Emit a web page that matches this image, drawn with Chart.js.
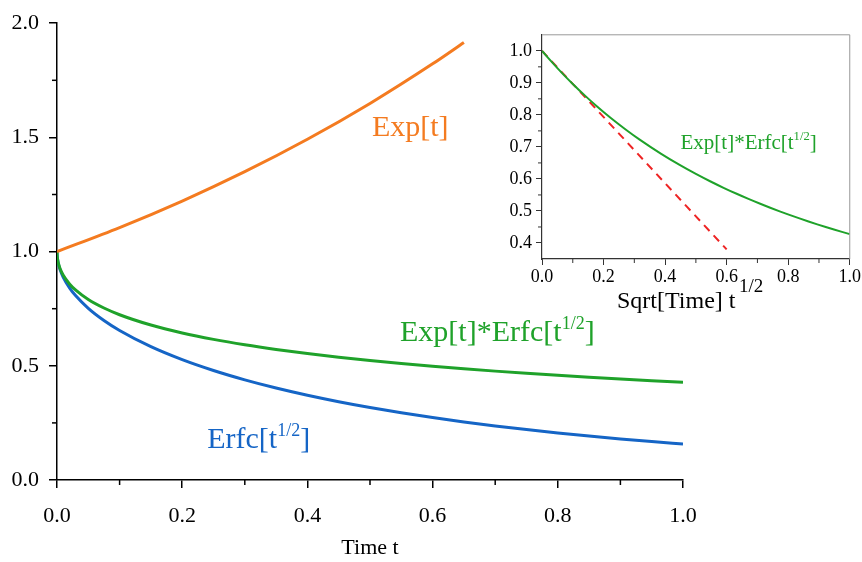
<!DOCTYPE html>
<html>
<head>
<meta charset="utf-8">
<script src="https://cdn.jsdelivr.net/npm/chart.js@4.4.1/dist/chart.umd.min.js"></script>
<style>
html, body { margin: 0; padding: 0; background: #fff; }
#wrap { position: relative; width: 862px; height: 562px; }
#main { position: absolute; left: 0; top: 0; }
#inset { position: absolute; left: 490px; top: 20px; }
</style>
</head>
<body>
<div id="wrap">
  <canvas id="main" width="862" height="562"></canvas>
  <canvas id="inset" width="372" height="300"></canvas>
</div>
<script>
// data
const timeT = [0, 0.0002, 0.001, 0.0025, 0.005, 0.01, 0.02, 0.03, 0.05, 0.075, 0.1, 0.15, 0.2,
  0.25, 0.3, 0.35, 0.4, 0.45, 0.5, 0.55, 0.6, 0.65, 0.7, 0.75, 0.8, 0.85, 0.9, 0.95, 1.0];
const sqrtTime = [0, 0.01414, 0.03162, 0.05, 0.07071, 0.1, 0.14142, 0.17321, 0.22361, 0.27386, 0.31623, 0.3873, 0.44721,
  0.5, 0.54772, 0.59161, 0.63246, 0.67082, 0.70711, 0.74162, 0.7746, 0.80623, 0.83666, 0.86603, 0.89443, 0.92195, 0.94868, 0.97468, 1.0];
const erfcValues = [1, 0.98404, 0.96433, 0.94363, 0.92034, 0.88754, 0.84148, 0.8065, 0.75183, 0.69858, 0.65472, 0.58388, 0.52709,
  0.4795, 0.43858, 0.40278, 0.37109, 0.34278, 0.31731, 0.29427, 0.27332, 0.25421, 0.23672, 0.22067, 0.2059, 0.19229, 0.17971, 0.16808, 0.1573];
const expErfcValues = [1, 0.98424, 0.9653, 0.94599, 0.92495, 0.89646, 0.85848, 0.83106, 0.79038, 0.75299, 0.72358, 0.67838, 0.64379,
  0.61569, 0.59202, 0.57158, 0.55361, 0.53759, 0.52316, 0.51004, 0.49802, 0.48695, 0.4767, 0.46716, 0.45824, 0.44988, 0.44202, 0.4346, 0.42758];
const expTime = [0, 0.1, 0.2, 0.3, 0.4, 0.5, 0.6, 0.65];
const expValues = [1, 1.10517, 1.2214, 1.34986, 1.49182, 1.64872, 1.82212, 1.91554];
const tangentX = [0, 0.6];
const tangentY = [1, 0.38];

// tick values
const mainXTicks = [0, 0.2, 0.4, 0.6, 0.8, 1.0];
const mainYTicks = [0, 0.5, 1.0, 1.5, 2.0];
const insetXTicks = [0, 0.2, 0.4, 0.6, 0.8, 1.0];
const insetYTicks = [0.4, 0.5, 0.6, 0.7, 0.8, 0.9, 1.0];

const orange = '#f47b20';
const green = '#1fa22a';
const blue = '#1565c6';
const red = '#ee2424';
const serif = '"Liberation Serif", "Times New Roman", serif';

function pts(xs, ys) {
  return xs.map((x, i) => ({ x: x, y: ys[i] }));
}
function fixedTicks(list) {
  return function (scale) {
    scale.ticks = list.map(v => ({ value: v }));
  };
}

// short ticks between the major ones
const minorTicks = {
  id: 'minorTicks',
  afterDraw(chart, args, opts) {
    const ctx = chart.ctx;
    const area = chart.chartArea;
    ctx.save();
    ctx.strokeStyle = opts.color;
    ctx.lineWidth = opts.width;
    opts.x.forEach(v => {
      const px = chart.scales.x.getPixelForValue(v);
      ctx.beginPath();
      ctx.moveTo(px, area.bottom);
      ctx.lineTo(px, area.bottom + opts.len);
      ctx.stroke();
    });
    opts.y.forEach(v => {
      const py = chart.scales.y.getPixelForValue(v);
      ctx.beginPath();
      ctx.moveTo(area.left, py);
      ctx.lineTo(area.left - opts.len, py);
      ctx.stroke();
    });
    if (opts.frame) {
      ctx.strokeStyle = opts.frame;
      ctx.beginPath();
      ctx.moveTo(area.left, area.top);
      ctx.lineTo(area.right, area.top);
      ctx.lineTo(area.right, area.bottom);
      ctx.stroke();
    }
    ctx.restore();
  }
};

// text with a superscript part
function drawRich(ctx, parts, x, y, size, color) {
  ctx.fillStyle = color;
  ctx.textAlign = 'left';
  ctx.textBaseline = 'alphabetic';
  let cx = x;
  parts.forEach(p => {
    const sup = p[1] === 's';
    const fs = sup ? size * 0.6 : size;
    ctx.font = fs + 'px ' + serif;
    ctx.fillText(p[0], cx, sup ? y - size * 0.4 : y);
    cx += ctx.measureText(p[0]).width;
  });
}

const curveLabels = {
  id: 'curveLabels',
  afterDraw(chart, args, opts) {
    const ctx = chart.ctx;
    ctx.save();
    opts.items.forEach(it => {
      const px = chart.scales.x.getPixelForValue(it.x);
      const py = chart.scales.y.getPixelForValue(it.y);
      drawRich(ctx, it.parts, px, py, it.size, it.color);
    });
    ctx.restore();
  }
};

// main chart
new Chart(document.getElementById('main'), {
  type: 'line',
  data: {
    datasets: [
      { data: pts(expTime, expValues), borderColor: orange, borderWidth: 3, pointRadius: 0, cubicInterpolationMode: 'monotone' },
      { data: pts(timeT, expErfcValues), borderColor: green, borderWidth: 3, pointRadius: 0, cubicInterpolationMode: 'monotone' },
      { data: pts(timeT, erfcValues), borderColor: blue, borderWidth: 3, pointRadius: 0, cubicInterpolationMode: 'monotone' }
    ]
  },
  options: {
    responsive: false,
    animation: false,
    layout: { padding: { top: 18, right: 179, left: 0, bottom: 0 } },
    plugins: {
      legend: { display: false },
      tooltip: { enabled: false },
      minorTicks: { x: [0.1, 0.3, 0.5, 0.7, 0.9], y: [0.25, 0.75, 1.25, 1.75], len: 5, width: 1.5, color: '#000' },
      curveLabels: {
        items: [
          { x: 0.503, y: 1.507, size: 30, color: orange, parts: [['Exp[t]', 'n']] },
          { x: 0.548, y: 0.610, size: 30, color: green, parts: [['Exp[t]*Erfc[t', 'n'], ['1/2', 's'], [']', 'n']] },
          { x: 0.240, y: 0.139, size: 30, color: blue, parts: [['Erfc[t', 'n'], ['1/2', 's'], [']', 'n']] }
        ]
      }
    },
    scales: {
      x: {
        type: 'linear', min: 0, max: 1,
        afterBuildTicks: fixedTicks(mainXTicks),
        ticks: { color: '#000', font: { family: serif, size: 22 }, padding: 15, callback: v => v.toFixed(1) },
        grid: { drawOnChartArea: false, tickLength: 8, color: '#000', lineWidth: 1.5 },
        border: { color: '#000', width: 1.5 },
        title: { display: true, text: 'Time t', color: '#000', font: { family: serif, size: 22 }, padding: { top: 0, bottom: 1 } },
        afterFit(s) { s.height = 82; }
      },
      y: {
        type: 'linear', min: 0, max: 2,
        afterBuildTicks: fixedTicks(mainYTicks),
        ticks: { color: '#000', font: { family: serif, size: 22 }, padding: 10, callback: v => v.toFixed(1) },
        grid: { drawOnChartArea: false, tickLength: 8, color: '#000', lineWidth: 1.5 },
        border: { color: '#000', width: 1.5 },
        afterFit(s) { s.width = 57; }
      }
    }
  },
  plugins: [minorTicks, curveLabels]
});

// inset: against sqrt of time
const insetTitle = {
  id: 'insetTitle',
  afterDraw(chart) {
    const ctx = chart.ctx;
    ctx.save();
    ctx.fillStyle = '#000';
    ctx.textBaseline = 'alphabetic';
    ctx.textAlign = 'left';
    ctx.font = '24px ' + serif;
    ctx.fillText('Sqrt[Time] t', 127, 288);
    ctx.font = '19px ' + serif;
    ctx.fillText('1/2', 249, 272);
    ctx.restore();
  }
};

new Chart(document.getElementById('inset'), {
  type: 'line',
  data: {
    datasets: [
      { data: pts(sqrtTime, expErfcValues), borderColor: green, borderWidth: 2, pointRadius: 0, cubicInterpolationMode: 'monotone' },
      { data: pts(tangentX, tangentY), borderColor: red, borderWidth: 2, borderDash: [8, 6], pointRadius: 0 }
    ]
  },
  options: {
    responsive: false,
    animation: false,
    layout: { padding: { top: 14, right: 12, left: 0, bottom: 0 } },
    plugins: {
      legend: { display: false },
      tooltip: { enabled: false },
      minorTicks: { x: [0.1, 0.3, 0.5, 0.7, 0.9], y: [0.45, 0.55, 0.65, 0.75, 0.85, 0.95], len: 4, width: 1, color: '#333', frame: '#999' },
      curveLabels: {
        items: [
          { x: 0.45, y: 0.695, size: 21, color: green, parts: [['Exp[t]*Erfc[t', 'n'], ['1/2', 's'], [']', 'n']] }
        ]
      }
    },
    scales: {
      x: {
        type: 'linear', min: 0, max: 1,
        afterBuildTicks: fixedTicks(insetXTicks),
        ticks: { color: '#000', font: { family: serif, size: 18 }, padding: 1, callback: v => v.toFixed(1) },
        grid: { drawOnChartArea: false, tickLength: 6, color: '#333', lineWidth: 1 },
        border: { color: '#333', width: 1.2 },
        afterFit(s) { s.height = 61; }
      },
      y: {
        type: 'linear', min: 0.35, max: 1.05,
        afterBuildTicks: fixedTicks(insetYTicks),
        ticks: { color: '#000', font: { family: serif, size: 18 }, padding: 4, callback: v => v.toFixed(1) },
        grid: { drawOnChartArea: false, tickLength: 6, color: '#333', lineWidth: 1 },
        border: { color: '#333', width: 1.2 },
        afterFit(s) { s.width = 52; }
      }
    }
  },
  plugins: [minorTicks, curveLabels, insetTitle]
});
</script>
</body>
</html>
